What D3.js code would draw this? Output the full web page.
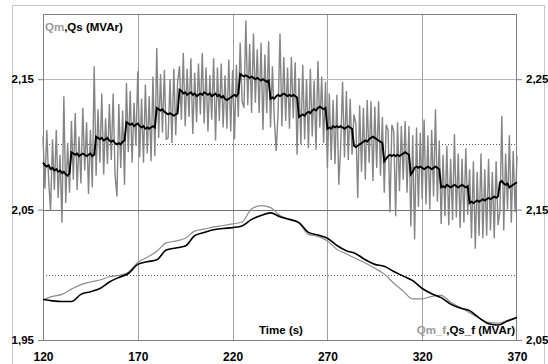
<!DOCTYPE html>
<html><head><meta charset="utf-8">
<script src="https://cdn.jsdelivr.net/npm/d3@7"></script>
<style>
html,body{margin:0;padding:0;background:#fff;}
svg{display:block;font-family:"Liberation Sans",Arial,sans-serif;}
</style></head>
<body><svg id="c" width="548" height="364"></svg>
<script>
// ---- data ----
const timeStart = 120, timeEnd = 370;          // 1 s sampling
const xTicks = [120, 170, 220, 270, 320, 370];
const leftTicks = [1.95, 2.05, 2.15];
const rightTicks = [2.05, 2.15, 2.25];
const dottedLeft = [2.0, 2.1];

// Qs (black, left axis)
const Qs = [
2.086,2.084,2.083,2.084,2.081,2.082,2.080,2.081,2.079,2.080,2.078,2.079,2.077,2.076,2.078,
2.094,2.093,2.092,2.093,2.091,2.092,2.093,2.092,2.091,2.092,2.093,2.091,2.092,
2.106,2.105,2.104,2.105,2.103,2.104,2.105,2.103,2.102,2.103,2.101,2.100,2.101,2.100,2.102,2.103,
2.117,2.116,2.115,2.116,2.114,2.115,2.116,2.114,2.113,2.114,2.112,2.113,2.112,2.113,2.114,2.113,
2.128,2.127,2.126,2.127,2.125,2.124,2.123,2.124,2.123,2.122,2.123,2.124,
2.142,2.141,2.139,2.140,2.138,2.139,2.140,2.138,2.139,2.137,2.138,2.139,2.138,2.140,2.139,2.138,
2.139,2.137,2.138,2.139,2.137,2.138,2.136,2.137,2.135,2.134,2.135,2.136,2.137,2.138,2.137,2.139,
2.154,2.153,2.152,2.153,2.152,2.151,2.152,2.151,2.150,2.151,2.150,2.149,2.150,2.149,2.148,2.149,
2.135,2.136,2.135,2.137,2.138,2.137,2.138,2.139,2.138,2.137,2.138,2.137,2.138,2.137,2.136,
2.121,2.122,2.123,2.122,2.124,2.125,2.124,2.126,2.127,2.126,2.128,2.129,2.128,2.127,2.128,
2.112,2.113,2.112,2.114,2.113,2.114,2.113,2.114,2.113,2.112,2.113,2.114,2.113,2.112,
2.099,2.098,2.099,2.100,2.101,2.102,2.103,2.102,2.104,2.105,2.106,2.105,2.104,2.103,2.102,2.101,
2.087,2.089,2.091,2.092,2.091,2.092,2.091,2.092,2.091,2.092,2.093,2.094,2.093,2.092,
2.077,2.079,2.082,2.083,2.082,2.083,2.082,2.081,2.082,2.083,2.082,2.081,2.082,2.083,2.082,2.081,
2.067,2.068,2.067,2.069,2.068,2.067,2.068,2.069,2.068,2.067,2.068,2.069,2.068,2.067,2.068,
2.055,2.056,2.055,2.056,2.057,2.056,2.057,2.058,2.057,2.058,2.059,2.058,2.059,2.060,2.059,2.060,
2.071,2.072,2.070,2.069,2.070,2.067,2.068,2.069,2.070,2.071
];

// Qm (grey, left axis)
const Qm = [
2.106,2.066,2.111,2.072,2.049,2.104,2.065,2.111,2.059,2.092,2.040,2.137,2.055,2.101,2.063,
2.118,2.073,2.124,2.065,2.106,2.070,2.128,2.080,2.117,2.062,2.111,2.067,2.160,
2.076,2.127,2.086,2.139,2.077,2.120,2.085,2.131,2.088,2.139,2.077,2.060,2.131,2.082,2.126,2.069,
2.147,2.094,2.141,2.086,2.132,2.099,2.156,2.090,2.135,2.086,2.146,2.093,2.137,2.087,2.152,2.091,
2.174,2.105,2.154,2.109,2.157,2.104,2.105,2.150,2.101,2.158,2.107,2.148,
2.160,2.119,2.170,2.114,2.158,2.121,2.166,2.108,2.155,2.117,2.162,2.123,2.170,2.116,2.159,2.110,
2.153,2.119,2.166,2.103,2.159,2.118,2.162,2.113,2.153,2.112,2.165,2.110,2.157,2.104,2.161,2.121,
2.178,2.133,2.128,2.195,2.130,2.177,2.124,2.185,2.132,2.173,2.124,2.178,2.111,2.169,2.124,2.179,
2.113,2.160,2.119,2.095,2.124,2.185,2.114,2.167,2.118,2.159,2.112,2.167,2.120,2.163,2.092,
2.151,2.100,2.161,2.104,2.150,2.097,2.158,2.106,2.149,2.096,2.164,2.113,2.152,2.101,2.148,
2.082,2.139,2.088,2.134,2.085,2.138,2.069,2.098,2.148,2.090,2.141,2.088,2.135,2.092,
2.123,2.116,2.059,2.130,2.079,2.128,2.073,2.134,2.086,2.133,2.072,2.129,2.082,2.133,2.076,2.121,
2.063,2.115,2.111,2.048,2.115,2.110,2.045,2.117,2.064,2.114,2.073,2.118,2.063,2.114,
2.037,2.107,2.027,2.113,2.052,2.109,2.058,2.119,2.054,2.107,2.050,2.111,2.060,2.127,2.056,2.103,
2.039,2.092,2.045,2.099,2.038,2.089,2.042,2.108,2.044,2.093,2.036,2.089,2.040,2.097,2.046,
2.081,2.028,2.087,2.020,2.079,2.030,2.093,2.028,2.081,2.030,2.089,2.034,2.079,2.028,2.087,2.038,
2.049,2.122,2.034,2.093,2.050,2.107,2.040,2.095,2.048,2.091
];

// filtered series (right axis), every 5 s
const timeFStep = 5;
const Qs_f = [
2.0810,2.0800,2.0795,2.0795,2.0850,2.0870,2.0895,2.0945,2.0980,2.1010,
2.1080,2.1100,2.1115,2.1190,2.1205,2.1220,2.1300,2.1325,2.1346,2.1355,
2.1362,2.1375,2.1425,2.1455,2.1475,2.1445,2.1425,2.1400,2.1325,2.1305,
2.1280,2.1225,2.1185,2.1162,2.1115,2.1080,2.1066,2.1025,2.0990,2.0955,
2.0895,2.0855,2.0825,2.0775,2.0745,2.0725,2.0670,2.0625,2.0615,2.0645,2.0672
];
const Qm_f = [
2.0810,2.0835,2.0850,2.0890,2.0925,2.0945,2.0960,2.0985,2.0995,2.1020,
2.1095,2.1135,2.1180,2.1245,2.1258,2.1280,2.1335,2.1350,2.1367,2.1378,
2.1390,2.1405,2.1505,2.1530,2.1515,2.1455,2.1425,2.1395,2.1310,2.1295,
2.1260,2.1195,2.1160,2.1125,2.1090,2.1050,2.1005,2.0935,2.0875,2.0815,
2.0815,2.0835,2.0842,2.0790,2.0750,2.0710,2.0670,2.0635,2.0630,2.0650,2.0672
];

// ---- drawing ----
const svg = d3.select("#c");
const L = 43, R = 517, T = 14, B = 340;
const x = d3.scaleLinear().domain([120, 370]).range([L, R]);
const yL = d3.scaleLinear().domain([1.95, 2.2]).range([B, T]);
const yR = d3.scaleLinear().domain([2.05, 2.3]).range([B, T]);
const fmt = v => d3.format(".2f")(v).replace(".", ",");

const time = d3.range(timeStart, timeEnd + 1);
const timeF = d3.range(timeStart, timeEnd + 1, timeFStep);

// outer frame
svg.append("rect").attr("x", 12.5).attr("y", 5.5).attr("width", 532).attr("height", 380)
  .attr("fill", "none").attr("stroke", "#c8c8c8").attr("stroke-width", 1);

// vertical grid
svg.append("g").selectAll("line").data(xTicks.slice(1, -1)).join("line")
  .attr("x1", d => Math.round(x(d)) + 0.5).attr("x2", d => Math.round(x(d)) + 0.5)
  .attr("y1", T).attr("y2", B).attr("stroke", "#a0a0a0").attr("stroke-width", 1);

// dotted horizontals
svg.append("g").selectAll("line").data(dottedLeft).join("line")
  .attr("x1", L).attr("x2", R)
  .attr("y1", d => Math.round(yL(d)) + 0.5).attr("y2", d => Math.round(yL(d)) + 0.5)
  .attr("stroke", "#555").attr("stroke-width", 1).attr("stroke-dasharray", "1,2");

// solid horizontals
svg.append("line").attr("x1", L).attr("x2", R)
  .attr("y1", Math.round(yL(2.15)) + 0.5).attr("y2", Math.round(yL(2.15)) + 0.5)
  .attr("stroke", "#b8b8b8");
svg.append("line").attr("x1", L).attr("x2", R)
  .attr("y1", Math.round(yL(2.05)) + 0.5).attr("y2", Math.round(yL(2.05)) + 0.5)
  .attr("stroke", "#707070");

// plot border
svg.append("rect").attr("x", L + 0.5).attr("y", T + 0.5).attr("width", R - L - 1).attr("height", B - T)
  .attr("fill", "none").attr("stroke", "#808080");

// raw series
const lineL = d3.line().x((d, i) => x(time[i])).y(d => yL(d));
svg.append("path").datum(Qm).attr("d", lineL).attr("fill", "none")
  .attr("stroke", "#858585").attr("stroke-width", 1.4);
svg.append("path").datum(Qs).attr("d", lineL).attr("fill", "none")
  .attr("stroke", "#000").attr("stroke-width", 1.9);

// filtered series
const lineR = d3.line().x((d, i) => x(timeF[i])).y(d => yR(d)).curve(d3.curveMonotoneX);
svg.append("path").datum(Qm_f).attr("d", lineR).attr("fill", "none")
  .attr("stroke", "#8c8c8c").attr("stroke-width", 1.2);
svg.append("path").datum(Qs_f).attr("d", lineR).attr("fill", "none")
  .attr("stroke", "#000").attr("stroke-width", 1.6);

// axes
const axL = svg.append("g").attr("transform", `translate(${L},0)`)
  .call(d3.axisLeft(yL).tickValues(leftTicks).tickSize(5).tickPadding(4).tickFormat(fmt));
const axR = svg.append("g").attr("transform", `translate(${R},0)`)
  .call(d3.axisRight(yR).tickValues(rightTicks).tickSize(5).tickPadding(4).tickFormat(fmt));
const axB = svg.append("g").attr("transform", `translate(0,${B})`)
  .call(d3.axisBottom(x).tickValues(xTicks).tickSize(0).tickPadding(12).tickFormat(d3.format("d")));
[axL, axR, axB].forEach(a => {
  a.select(".domain").remove();
  a.selectAll(".tick line").attr("stroke", "#808080");
  a.selectAll("text").attr("font-family", "Liberation Sans, Arial, sans-serif")
    .attr("font-weight", "bold").attr("font-size", 11.5).attr("fill", "#000");
});
axB.selectAll("text").attr("font-size", 12);

// labels
const t1 = svg.append("text").attr("x", 45).attr("y", 31)
  .attr("font-weight", "bold").attr("font-size", 11.5);
t1.append("tspan").attr("fill", "#9a9a9a").text("Qm");
t1.append("tspan").attr("fill", "#000").text(",Qs (MVAr)");

svg.append("text").attr("x", 281).attr("y", 334).attr("text-anchor", "middle")
  .attr("font-weight", "bold").attr("font-size", 11.5).text("Time (s)");

const t2 = svg.append("text").attr("x", 515).attr("y", 334).attr("text-anchor", "end")
  .attr("font-weight", "bold").attr("font-size", 11.5);
t2.append("tspan").attr("fill", "#9a9a9a").text("Qm_f");
t2.append("tspan").attr("fill", "#000").text(",Qs_f (MVAr)");
</script></body></html>
